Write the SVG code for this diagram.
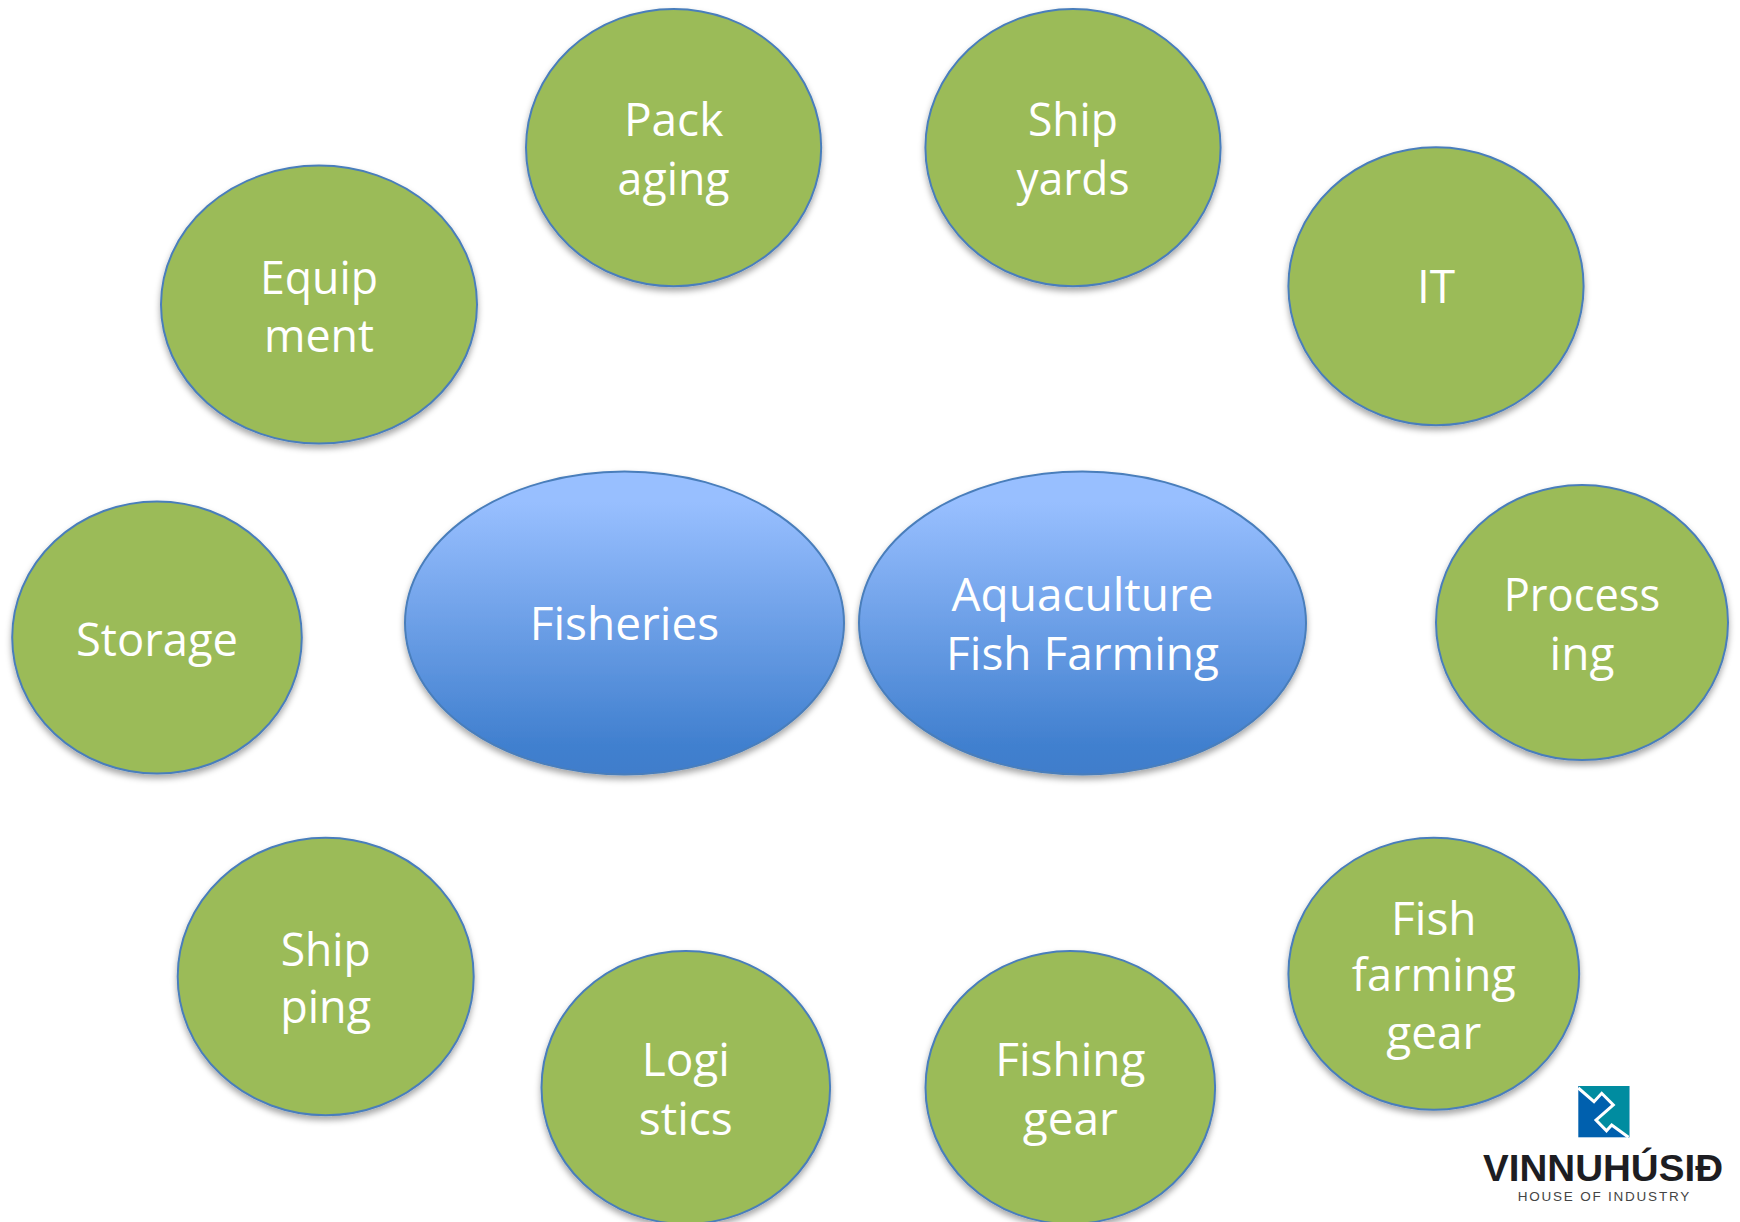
<svg xmlns="http://www.w3.org/2000/svg" width="1740" height="1222" viewBox="0 0 1740 1222">
<style>
.g{fill:#9bbb59;stroke:#4a7ebb;stroke-width:2;filter:url(#sh)}
.b{fill:url(#blue);stroke:#4a7ebb;stroke-width:2;filter:url(#sh)}
.t{font-family:"Open Sans","Noto Sans",sans-serif;font-size:46px;fill:#fff;text-anchor:middle}
.l1{font-family:"Liberation Sans",Arial,sans-serif;font-weight:700;font-size:36.5px;fill:#1d1d22}
.l2{font-family:"Liberation Sans",Arial,sans-serif;font-size:13.5px;fill:#444}
</style>
<defs>
<linearGradient id="blue" x1="0" y1="0" x2="0" y2="1"><stop offset="0.1" stop-color="#98bfff"/><stop offset="0.9" stop-color="#4180cf"/><stop offset="1" stop-color="#3f7dcb"/></linearGradient>
<filter id="sh" x="-10%" y="-10%" width="120%" height="125%"><feDropShadow dx="0" dy="4" stdDeviation="3" flood-color="#000" flood-opacity="0.35"/></filter>
</defs>
<rect width="1740" height="1222" fill="#fff"/>
<g id="connectors"/>
<g id="packaging"><ellipse class="g" cx="673.6" cy="147.6" rx="147.6" ry="138.7"/><text class="t" x="673.6" y="136">Pack</text><text class="t" x="673.6" y="194.5" textLength="112" lengthAdjust="spacingAndGlyphs">aging</text></g>
<g id="shipyards"><ellipse class="g" cx="1073" cy="147.6" rx="147.6" ry="138.7"/><text class="t" x="1073" y="136" textLength="90" lengthAdjust="spacingAndGlyphs">Ship</text><text class="t" x="1073" y="194.5" textLength="113" lengthAdjust="spacingAndGlyphs">yards</text></g>
<g id="equipment"><ellipse class="g" cx="319" cy="304.6" rx="158" ry="139"/><text class="t" x="319" y="293.5" textLength="118" lengthAdjust="spacingAndGlyphs">Equip</text><text class="t" x="319" y="351.5" textLength="110" lengthAdjust="spacingAndGlyphs">ment</text></g>
<g id="it"><ellipse class="g" cx="1436" cy="286.3" rx="147.6" ry="139"/><text class="t" x="1436" y="302.5">IT</text></g>
<g id="storage"><ellipse class="g" cx="157" cy="637.5" rx="144.8" ry="136"/><text class="t" x="157" y="655.5" textLength="162" lengthAdjust="spacingAndGlyphs">Storage</text></g>
<g id="fisheries"><ellipse class="b" cx="624.5" cy="623" rx="219.5" ry="151.5"/><text class="t" x="624.5" y="640">Fisheries</text></g>
<g id="aquaculture"><ellipse class="b" cx="1082.5" cy="623" rx="223.5" ry="151.5"/><text class="t" x="1082.5" y="611">Aquaculture</text><text class="t" x="1082.5" y="669.8">Fish Farming</text></g>
<g id="processing"><ellipse class="g" cx="1582" cy="622.5" rx="146" ry="137.6"/><text class="t" x="1582" y="611" textLength="156.5" lengthAdjust="spacingAndGlyphs">Process</text><text class="t" x="1582" y="669.8">ing</text></g>
<g id="shipping"><ellipse class="g" cx="325.7" cy="976.5" rx="148" ry="138.7"/><text class="t" x="325.7" y="965.5" textLength="90" lengthAdjust="spacingAndGlyphs">Ship</text><text class="t" x="325.7" y="1022.5" textLength="91" lengthAdjust="spacingAndGlyphs">ping</text></g>
<g id="logistics"><ellipse class="g" cx="685.8" cy="1087.5" rx="144.3" ry="136.5"/><text class="t" x="685.8" y="1075.5">Logi</text><text class="t" x="685.8" y="1134.5">stics</text></g>
<g id="fishing-gear"><ellipse class="g" cx="1070.3" cy="1087.5" rx="144.8" ry="136.5"/><text class="t" x="1070.3" y="1075.5">Fishing</text><text class="t" x="1070.3" y="1134.5">gear</text></g>
<g id="fish-farming-gear"><ellipse class="g" cx="1433.8" cy="973.8" rx="145.4" ry="136"/><text class="t" x="1433.8" y="934.5">Fish</text><text class="t" x="1433.8" y="991" textLength="164" lengthAdjust="spacingAndGlyphs">farming</text><text class="t" x="1433.8" y="1049">gear</text></g>
<g id="logo">
<rect x="1578.3" y="1086" width="51" height="51.3" fill="#0060ae"/>
<polygon points="1578.3,1086 1629.3,1086 1629.3,1137.3 1628.3,1137.3 1611.5,1125 1606.5,1130.5 1596,1120 1613.3,1105 1601.7,1093.3 1594,1101.7" fill="#008ca0"/>
<polyline points="1578.3,1088 1594,1101.7 1601.7,1093.3 1613.3,1105 1596,1120 1606.5,1130.7 1611.7,1125 1628.5,1137.3" fill="none" stroke="#fff" stroke-width="3"/>
<text class="l1" x="1483" y="1180.7" textLength="240" lengthAdjust="spacingAndGlyphs">VINNUHÚSIÐ</text>
<text class="l2" x="1517.7" y="1200.5" textLength="171.5">HOUSE OF INDUSTRY</text>
</g>
</svg>
